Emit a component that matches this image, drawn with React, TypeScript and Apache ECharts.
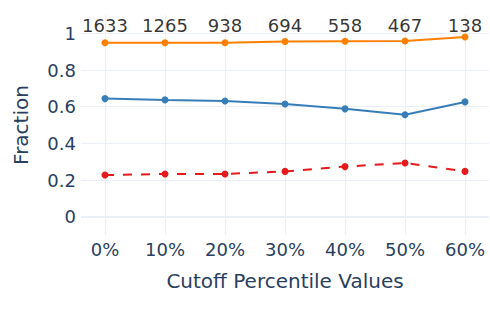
import React, { useEffect, useRef } from "react";
import * as echarts from "echarts";

const cutoffs = [0, 10, 20, 30, 40, 50, 60];
const counts = [1633, 1265, 938, 694, 558, 467, 138];
const orangeValues = [0.949, 0.949, 0.949, 0.955, 0.957, 0.958, 0.98];
const blueValues = [0.644, 0.637, 0.631, 0.615, 0.588, 0.556, 0.626];
const redValues = [0.227, 0.233, 0.233, 0.247, 0.273, 0.293, 0.247];
const yTicks = [0, 0.2, 0.4, 0.6, 0.8, 1];

const FONT = "DejaVu Sans";
const GRID = "#EBF0F8";
const TEXT = "#2a3f5f";

export default function App() {
  const ref = useRef<HTMLDivElement>(null);
  useEffect(() => {
    if (!ref.current) return;
    const chart = echarts.init(ref.current, null, { renderer: "svg" });
    const pairs = (vals: number[]) => cutoffs.map((c, i) => [c, vals[i]]);
    const lineSeries = (name: string, vals: number[], color: string, dashed = false) => ({
      name,
      type: "line",
      data: pairs(vals),
      symbol: "circle",
      symbolSize: 7,
      itemStyle: { color },
      lineStyle: { color, width: 2, type: dashed ? [9, 9] : "solid" },
      z: 3,
    });
    chart.setOption({
      animation: false,
      backgroundColor: "#ffffff",
      grid: { left: 81, right: 1, top: 15, bottom: 80 },
      xAxis: {
        type: "value",
        min: -4,
        max: 64,
        axisLine: { show: false },
        axisTick: { show: false, customValues: cutoffs },
        axisLabel: {
          customValues: cutoffs,
          formatter: (v: number) => v + "%",
          color: TEXT,
          fontFamily: FONT,
          fontSize: 18,
          margin: 5,
        },
        splitLine: { show: true, lineStyle: { color: GRID, width: 1 } },
        name: "Cutoff Percentile Values",
        nameLocation: "middle",
        nameGap: 36,
        nameTextStyle: { color: TEXT, fontFamily: FONT, fontSize: 20 },
      },
      yAxis: {
        type: "value",
        min: -0.1,
        max: 1.1,
        axisLine: { show: false },
        axisTick: { show: false, customValues: yTicks },
        axisLabel: {
          customValues: yTicks,
          formatter: (v: number) => String(Math.round(v * 10) / 10),
          color: TEXT,
          fontFamily: FONT,
          fontSize: 18,
          margin: 5,
        },
        splitLine: { show: true, lineStyle: { color: GRID, width: 1 } },
        name: "Fraction",
        nameLocation: "middle",
        nameGap: 50,
        nameTextStyle: { color: TEXT, fontFamily: FONT, fontSize: 20 },
      },
      series: [
        {
          type: "line",
          data: [],
          markLine: {
            silent: true,
            symbol: "none",
            label: { show: false },
            lineStyle: { color: GRID, width: 2, type: "solid" },
            data: [{ yAxis: 0 }],
          },
          z: 1,
        },
        lineSeries("blue", blueValues, "#377eb8"),
        lineSeries("orange", orangeValues, "#ff7f00"),
        lineSeries("red", redValues, "#e41a1c", true),
        {
          type: "scatter",
          data: cutoffs.map((c, i) => [c, 1, counts[i]]),
          symbolSize: 0,
          label: {
            show: true,
            position: "inside",
            offset: [0, -8],
            formatter: (p: any) => String(p.value[2]),
            color: "#000000",
            fontFamily: FONT,
            fontSize: 18,
          },
          z: 4,
        },
      ],
    });
    return () => chart.dispose();
  }, []);
  return <div ref={ref} style={{ width: 490, height: 315, position: "absolute", left: 0, top: 0 }} />;
}
